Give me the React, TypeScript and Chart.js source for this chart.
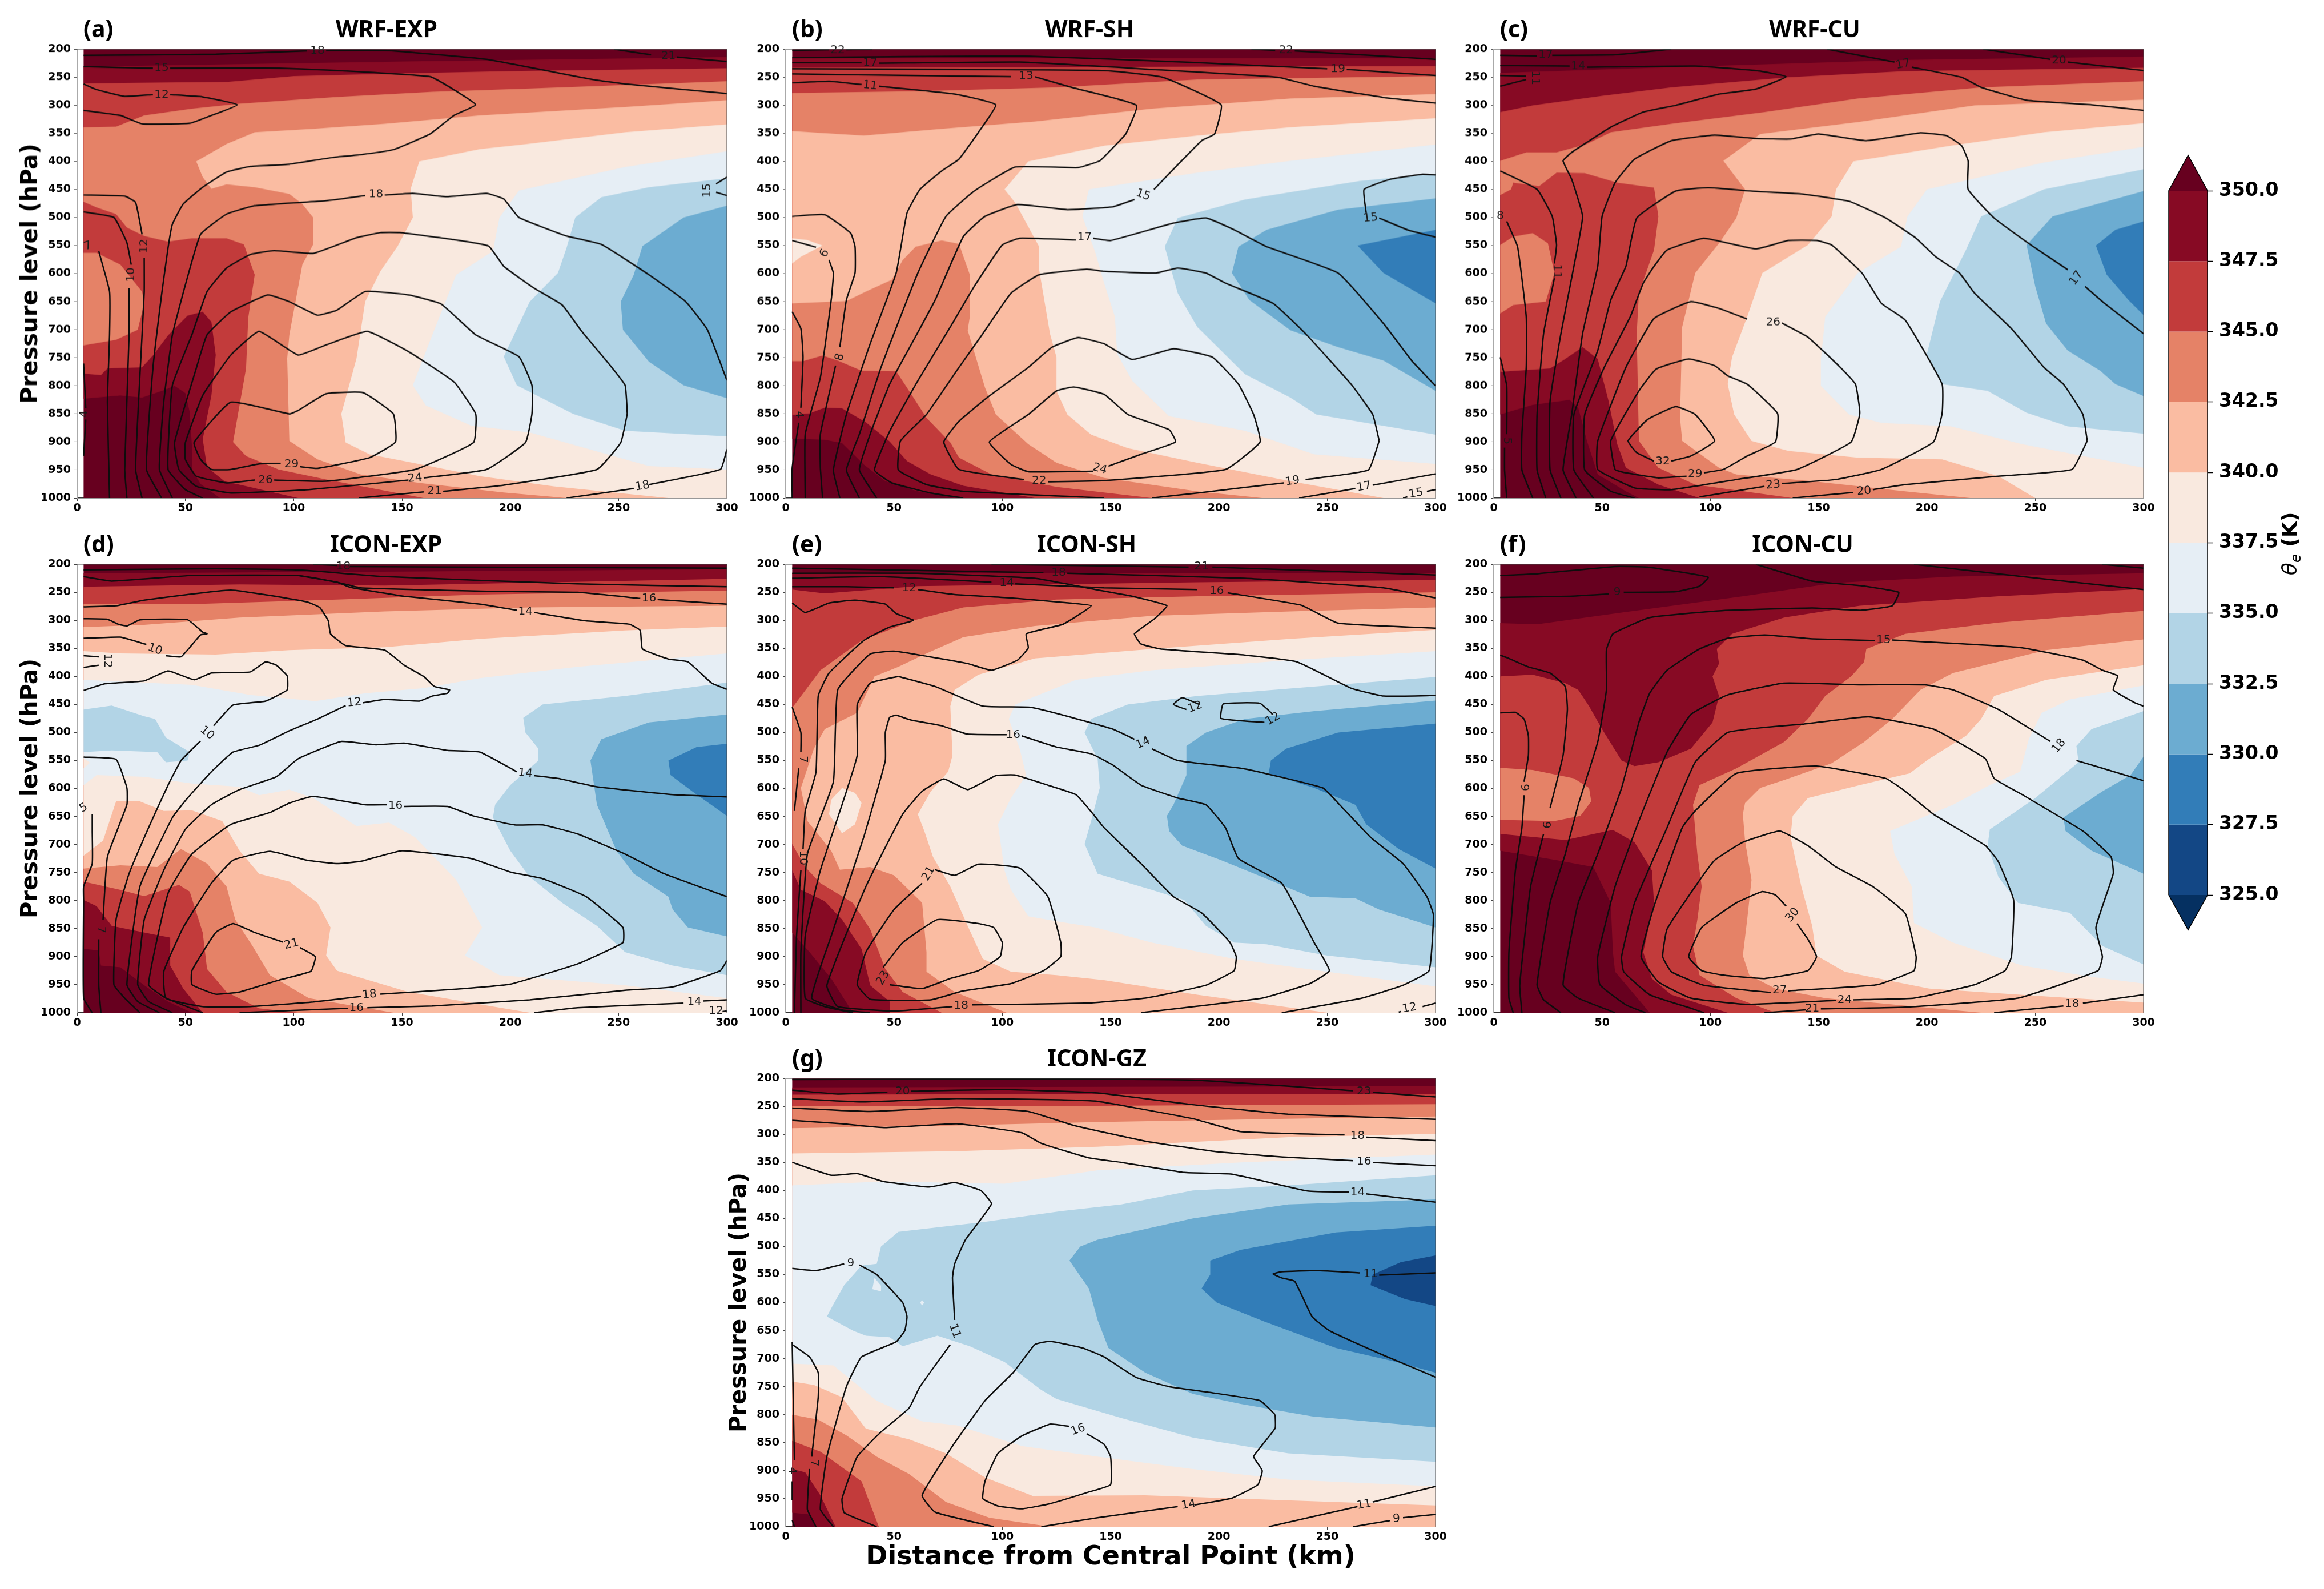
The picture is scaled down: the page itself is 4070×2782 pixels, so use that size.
import React, { useEffect, useRef } from "react";
import { Chart, registerables } from "chart.js";
Chart.register(...registerables);

const levelColors: Record<string, string> = {
  "999": "#67001f", "350": "#870a24", "347.5": "#c23b3b", "345": "#e58267", "342.5": "#fabca2",
  "340": "#f9e9df", "337.5": "#e6eef5", "335": "#b2d4e6", "332.5": "#6cacd1", "330": "#327db8", "327.5": "#134785", "0": "#053061",
};
const colorbarLevels = [325, 327.5, 330, 332.5, 335, 337.5, 340, 342.5, 345, 347.5, 350];
const pressureTicksMin = 200, pressureTicksMax = 1000, distanceMax = 300;
const field = [3, 200, 300, 200, 300, 1000, 3, 1000];

type Fill = [string, number[]];
type Lab = [string, number, number, number];

// ---------- (a) WRF-EXP
const aFills: Fill[] = [
  ["350", [3,231,150,222,300,214,300,1000,66,1000,57,975,53,949,53,907,52,847,50,813,45,800,40,808,30,821,20,817,3,823]],
  ["347.5", [3,261,70,258,100,248,150,243,200,239,300,234,300,1000,102,1000,68,970,60,945,58,895,62,817,64,745,62,686,58,668,51,675,42,710,35,746,30,767,14,769,11,781,3,778]],
  ["345", [3,339,18,338,31,318,53,306,75,297,120,285,164,276,209,270,300,257,300,1000,160,1000,115,967,93,949,78,925,72,900,78,769,79,679,82,602,77,548,69,537,53,537,42,543,31,533,23,518,18,494,9,482,3,472]],
  ["345", [3,563,9,563,20,584,30,632,31,653,28,700,18,718,3,728]],
  ["342.5", [55,400,69,369,82,348,109,342,142,333,186,318,253,303,300,291,300,1000,226,1000,197,990,158,973,131,958,111,931,98,898,97,751,98,709,104,584,109,548,109,500,104,476,98,458,82,446,69,441,62,449,58,428]],
  ["340", [158,400,186,378,208,369,253,348,300,334,300,1000,273,1000,220,979,186,961,155,937,135,922,124,901,122,850,129,751,133,650,140,596,148,551,155,500,154,449]],
  ["337.5", [204,452,253,410,300,382,300,949,264,943,231,907,209,883,182,871,161,835,155,799,164,709,175,602,192,560,195,500]],
  ["335", [300,430,264,446,242,464,230,500,226,554,222,599,209,650,197,748,203,799,229,850,253,880,300,890]],
  ["332.5", [300,479,280,500,261,551,257,602,251,650,252,700,264,757,280,799,300,822]],
];
const aLines = [
  [3,211,64,209,106,203],[115,202,142,202,189,218,238,254,253,262,300,279],
  [248,200,265,210],[277,214,300,222],
  [3,231,35,234],[43,234,87,233,120,238,163,249,173,270,184,299,174,318,163,351,146,379,131,388,118,393,98,405,80,409,69,419,58,446,49,476,44,512,42,554,39,638,35,769,32,949,39,1000],
  [3,262,9,272,22,284,35,281],[43,281,58,285,74,299,60,321,52,332,30,333,20,318,3,309],
  [3,490,17,500,23,545,25,584],[24,626,24,709,22,949,23,1000],
  [3,460,22,462,27,473,30,530],[31,572,31,632,30,709,27,949,30,1000],
  [10,560,15,632,15,709,14,829,15,1000],
  [3,760,4,840],[4,860,3,925],
  [300,790,291,700,281,650,264,602,242,548,226,533,204,500,197,467,189,457,171,463,155,457,142,460],[133,461,115,470,82,479,69,494,57,530,50,620,44,709,40,829,38,949,44,1000],
  [300,913,297,949,264,976],[257,983,226,1000],
  [254,850,253,799,246,763,233,703,224,656,211,626,197,587,190,551,173,539,149,527,140,527,129,536,109,564,91,559,80,566,69,590,60,632,53,709,44,799,42,949,50,985,58,1000],
  [254,850,251,901,240,949,197,977,169,988],[160,989,130,1000],
  [160,964,189,949,207,901,210,850,210,799,204,748,184,709,168,654,153,638,133,632,120,665,111,674,98,650,88,638,71,668,60,709,55,769,45,901,47,949,55,979,71,991,107,985,153,968],
  [91,968,115,970,156,949,183,901,184,850,174,793,153,739,134,703,115,727,102,745,84,703,71,745,58,817,50,901,50,931,55,961,69,973,82,968],
  [103,944,111,947,135,928,147,900,146,850,132,812,115,814,102,844,98,850,71,829,54,901,57,931,62,949,71,949,84,939,94,938],
  [300,428,295,440],[295,455,300,461],
];
const aLabels: Lab[] = [["18",111,203,0],["21",273,212,0],["15",39,233,0],["12",39,281,0],["10",25,602,-90],["12",31,551,-90],["7",5,551,-20],["4",3.5,850,-90],["18",138,459,0],["18",261,979,-10],["21",165,988,0],["24",156,965,-5],["26",87,968,0],["29",99,940,0],["15",291,452,-90]];

// ---------- (b) WRF-SH
const bFills: Fill[] = [
  ["350", [3,216,300,216,300,1000,82,1000,61,988,46,970,36,940,26,902,18,896,3,894]],
  ["347.5", [3,233,100,232,300,230,300,1000,115,1000,82,978,67,958,56,934,48,899,37,865,26,840,18,839,11,849,3,852]],
  ["345", [3,278,61,275,125,268,190,254,300,248,300,1000,169,1000,125,980,95,958,80,928,76,901,65,857,58,815,51,774,35,773,24,755,17,746,8,756,3,756]],
  ["342.5", [3,346,36,354,72,342,115,329,169,306,233,288,300,280,300,1000,220,1000,190,988,147,964,125,937,112,904,97,851,92,803,84,701,85,677,85,602,80,547,72,541,60,552,54,576,49,611,37,632,28,649,3,653]],
  ["340", [112,400,147,372,190,354,233,339,300,323,300,1000,276,1000,233,970,190,937,158,911,141,887,130,851,125,809,125,749,122,707,117,593,117,552,106,474,101,450]],
  ["340", [3,537,10,540,17,550,7,570,3,582]],
  ["337.5", [300,370,233,399,190,420,140,450,137,498,143,563,147,617,152,677,153,743,160,791,177,854,212,880,244,922,300,939]],
  ["335", [300,422,265,435,212,468,181,501,175,552,181,635,190,695,212,779,233,821,245,851,300,887]],
  ["332.5", [300,466,255,486,222,522,209,552,206,599,214,647,233,701,255,731,276,755,300,809]],
  ["330", [300,522,264,550,276,599,300,653]],
];
const bLines = [
  [3,202,20,201],[28,201,40,200],[215,200,226,202],[235,203,300,218],
  [3,215,108,212,190,224,250,235],[259,236,300,247],
  [3,224,35,224],[43,225,108,223,169,236,227,250,244,266,276,286,300,296],
  [3,235,82,236,147,238,174,250,201,299,198,351,192,363,179,414,170,450],[161,468,151,481,130,486,107,477,92,498,82,534,69,647,59,719,48,797,39,886,34,950,42,1000],
  [3,244,104,249],[115,249,132,268,162,300,157,351,152,372,145,399,135,411,106,410,87,453,74,498,61,599,44,767,34,886,28,950,34,1000],
  [3,260,20,257,35,263],[43,266,78,280,97,299,89,348,80,396,72,417,62,450,56,492,51,599,39,725,28,851,22,950,25,1000],
  [3,498,18,495,30,528,32,552,32,599,28,647,25,731],[23,764,16,886,16,946,17,1000],
  [3,541,14,553],[20,576,22,599,21,647,16,785,9,886,9,1000],
  [3,668,7,698,8,749,7,839],[6,866,3,946,3,1000],
  [300,800,289,755,276,689,255,599,222,552,207,522,194,501,179,510,150,541,142,537],[134,540,108,537,100,549,87,623,76,695,61,791,48,881,41,950,49,973,67,991,82,1000],
  [300,424,294,423,279,432,267,450,268,492],[274,501,287,522,300,535],
  [274,898,271,851,261,797,240,707,225,653,203,617,194,599,181,590,171,599,147,596,139,592,117,602,104,635,91,707,80,767,65,851,53,898,52,950,65,976,82,988,147,1000],
  [274,898,269,950,240,967],[230,973,190,991,169,1000],
  [110,967,80,949,73,900,80,863,93,821,112,767,123,731,135,714,147,725,160,753,179,734,197,749,209,797,216,851,219,900,203,949,147,969,121,971],
  [142,952,112,953,104,940,94,900,112,851,125,809,133,802,147,815,158,851,177,878,180,900,164,922,149,943],
  [237,1000,263,983],[271,977,300,957],[285,1000,287,998],[296,988,300,985],
];
const bLabels: Lab[] = [["22",24,202,0],["22",231,202,0],["19",255,235,0],["17",39,224,0],["15",165,460,20],["13",111,248,0],["11",39,265,5],["8",25,749,-75],["6",18,564,-60],["4",6,851,90],["17",138,535,0],["15",270,501,-5],["19",234,970,-10],["22",117,969,0],["24",145,948,15],["17",267,980,-10],["15",291,992,-10]];

// ---------- (c) WRF-CU
const cFills: Fill[] = [
  ["350", [3,242,82,232,190,219,300,213,300,1000,67,1000,61,988,48,958,43,898,39,839,35,825,18,834,3,851]],
  ["347.5", [3,312,18,300,50,283,82,268,136,250,190,239,300,233,300,1000,95,1000,76,976,61,946,57,904,53,827,48,752,41,731,33,752,26,769,3,775]],
  ["345", [3,399,15,384,29,384,43,369,54,348,82,333,125,312,168,288,225,268,300,257,300,1000,138,1000,93,976,76,946,67,898,66,707,67,635,74,558,76,498,74,447,57,438,42,421,29,420,21,444,9,438,8,450,3,460]],
  ["345", [3,549,9,534,18,528,25,546,28,599,24,650,9,656,3,671]],
  ["342.5", [106,399,123,351,168,330,222,300,300,290,300,1000,220,1000,190,988,147,970,112,958,104,946,87,898,86,857,87,695,93,599,104,546,112,501,116,450]],
  ["340", [166,400,211,372,254,348,300,332,300,1000,250,1000,233,961,207,931,168,928,136,916,119,898,111,851,108,797,110,749,117,677,124,599,145,549,156,498,158,450]],
  ["337.5", [300,374,254,402,200,450,191,498,188,552,168,599,153,677,151,755,151,800,164,851,179,866,211,872,244,904,300,946]],
  ["335", [300,414,254,450,225,498,218,558,206,650,200,743,207,797,228,809,246,848,265,872,300,885]],
  ["332.5", [300,453,258,498,246,549,250,623,255,689,265,737,280,773,287,797,300,818]],
  ["330", [300,507,287,522,278,550,283,602,293,647,300,674]],
];
const cLines = [
  [3,211,20,212],[27,211,56,210,82,200],
  [154,200,185,223],[193,232,216,250,225,268,246,291,276,299,300,309],
  [226,200,257,218],[265,223,300,238],
  [3,229,35,230],[43,232,93,230,121,238,135,249,121,271,104,280,84,300,69,312,54,339,43,366,36,384,32,399,36,432,41,498,37,587,31,707,26,827,26,950,31,1000],
  [3,247,15,248],[15,254,3,266],
  [3,417,20,450,27,498,29,549,28,582],[28,608,23,707,20,851,20,950,24,1000],
  [6,507,11,552,15,677,15,767,13,886,13,950,18,1000],
  [3,749,6,800,6,886],[5,910,5,950,6,1000],
  [300,707,282,653,273,623],[265,593,248,549,231,501,219,450,219,399,216,372,209,354,197,349,172,363,150,351,137,360,121,359,102,353,82,363,65,396,56,438,50,498,48,587,41,707,36,851,32,950,38,1000],
  [274,898,272,851,263,797,254,767,239,698,222,635,215,599,204,570,195,537,181,501,164,471,142,458,119,453,99,447,84,453,66,501,61,587,54,647,48,737,37,851,37,950,46,1000],
  [274,898,267,949,233,961,190,976,175,985],[166,990,138,1000],
  [133,974,158,967,179,949,203,900,207,849,207,797,190,683,179,653,170,599,156,549,149,541,136,541,121,556,97,537,80,558,74,587,69,617,63,677,51,767,42,851,42,950,54,988,65,1000],
  [125,979,95,998],
  [117,681,104,662,91,650,74,680,61,767,48,898,48,949,65,982,82,985,112,967,140,949,165,900,169,849,167,797,160,767,145,713,133,688],
  [97,955,106,949,117,925,130,900,131,849,117,797,108,782,102,764,90,752,75,770,67,809,54,898,56,949,61,955,76,964,89,961],
  [82,934,91,925,102,898,93,851,84,837,71,860,62,898,66,919,74,934],
];
const cLabels: Lab[] = [["17",24,210,0],["17",189,227,-12],["20",261,220,0],["14",39,230,0],["11",19,251,90],["11",29,596,90],["8",3,497,0],["5",6,898,90],["17",269,608,-55],["20",171,988,-5],["23",129,977,-5],["26",129,687,0],["29",93,957,0],["32",78,935,0]];

// ---------- (d) ICON-EXP
const dFills: Fill[] = [
  ["350", [3,216,150,213,300,209,300,1000,53,1000,42,980,31,951,20,919,11,916,10,889,3,886]],
  ["347.5", [3,240,75,236,142,238,300,226,300,1000,58,1000,49,957,43,916,43,866,35,860,16,845,9,810,3,799]],
  ["345", [3,271,53,271,120,263,186,254,300,247,300,1000,102,1000,84,992,69,963,60,922,58,857,52,784,47,772,31,792,20,781,3,766]],
  ["342.5", [3,312,31,308,75,295,142,284,209,277,300,274,300,1000,146,1000,107,974,89,933,81,881,73,834,69,775,60,734,48,708,37,740,20,737,3,743]],
  ["340", [3,355,20,359,64,361,98,353,142,348,186,333,253,318,300,311,300,1000,209,1000,186,985,153,963,120,925,115,898,117,848,111,804,98,766,84,752,75,711,67,658,53,639,40,640,29,623,18,623,12,693,3,720]],
  ["337.5", [3,406,53,415,80,433,110,444,133,430,160,421,186,403,231,383,300,359,300,974,253,951,195,933,179,898,187,848,175,763,156,687,144,661,129,667,109,617,98,602,84,612,75,597,53,591,31,579,9,576,3,594,3,564,6,554,3,546]],
  ["335", [3,459,16,452,31,471,36,476,41,509,52,535,51,550,41,553,37,535,16,532,3,535]],
  ["335", [300,411,253,435,215,450,206,474,207,500,213,529,213,550,200,594,193,629,192,652,200,711,209,758,224,804,240,845,253,892,275,916,300,933]],
  ["332.5", [300,468,264,482,242,512,237,550,240,629,249,711,257,752,273,793,275,816,282,848,300,864]],
  ["330", [300,520,286,526,273,550,274,576,284,605,300,649]],
];
const dLines = [
  [109,200,120,202],[126,204,300,207],
  [3,210,64,208,102,210,142,222,231,235,300,240],
  [3,222,16,230,53,220,102,220,120,232,131,242,186,248,231,250,260,261],[268,263,300,271],
  [102,220,120,232,126,241,151,257,186,271,203,282],[211,286,235,301,255,307,260,318,261,351,273,369,282,374,293,412,300,423],
  [3,276,18,274,31,264,71,246,106,267,112,277,116,301,117,324,124,345,142,353,151,380,160,400,165,418,172,424,171,430,164,435,158,444,142,441,132,447],[124,452,111,476,98,497,84,523,72,535,62,570,51,617,44,652,29,775,23,950,28,980,38,1000],
  [3,297,14,298,19,307,23,310,29,299,51,299,58,321,60,324,57,326,48,365,41,363],[32,343,20,330,3,332],
  [3,363,10,365],[10,380,3,384],
  [3,425,13,413,31,408,42,390,54,406,62,394,80,392,87,374,92,380,97,399,97,424,87,444,72,451,63,488],[57,515,48,550,42,594,33,670,24,752,18,834,17,950,22,974,29,1000],
  [3,544,18,548,23,599,23,629,14,722,12,834],[10,869,10,951,11,1000],
  [7,646,7,676,7,734,3,775,3,801,3,974,7,1000],
  [300,615,275,611,240,597,222,582,211,577],[203,570,186,535,171,532,151,519,138,522,122,516,102,547,92,579,75,602,62,629,50,673,40,746,31,834,28,950,33,980,44,1000],
  [300,793,271,752,253,717,231,681,215,665,202,665,183,649,171,632,151,632],[143,629,133,629,109,614,98,626,89,643,71,664,53,717,42,787,33,950,41,974,58,1000],
  [131,971,109,981,80,989,58,989,41,974,40,927,49,848,62,769,72,728,89,712,106,728,120,734,131,730,150,711,182,725,200,749,215,761,235,793,252,848,252,875,231,913,200,949,175,958,140,967],
  [95,874,82,857,72,841,64,857,53,925,53,950,64,967,75,963,93,942,108,926,110,900,103,884],
  [300,907,297,925,275,954,253,960,209,977,164,988,134,991],[125,992,75,1000],
  [211,1000,231,991,280,983],[289,979,300,977],[298,998,300,997],
];
const dLabels: Lab[] = [["18",123,204,0],["16",264,261,0],["14",207,284,0],["12",128,447,-5],["10",36,352,20],["12",14,372,90],["10",60,501,40],["7",11,852,90],["5",3,635,-30],["14",207,573,5],["16",147,631,0],["18",135,968,-5],["21",99,878,-15],["16",129,992,0],["14",285,980,0],["12",295,997,0]];

// ---------- (e) ICON-SH
const eFills: Fill[] = [
  ["350", [3,216,300,216,300,1000,31,1000,21,939,11,892,3,857]],
  ["347.5", [3,245,18,252,61,239,190,232,300,228,300,1000,48,1000,48,980,39,951,35,886,26,834,18,801,7,781,3,746]],
  ["345", [3,456,16,389,35,336,59,300,82,277,125,263,190,257,300,250,300,1000,72,1000,54,963,46,922,39,851,31,804,16,769,9,740,3,699]],
  ["342.5", [7,599,13,529,18,494,33,465,41,400,52,383,65,359,82,330,115,310,169,292,233,284,300,277,300,1000,102,1000,78,963,65,927,65,892,63,804,50,755,39,740,25,745,21,711,16,687,10,658]],
  ["340", [300,317,233,333,169,351,115,368,89,397,78,424,76,453,77,541,75,570,67,605,61,646,64,676,68,722,76,775,84,845,91,904,104,927,125,933,147,942,190,968,250,1000,300,1000]],
  ["340", [26,599,32,608,35,626,32,664,26,680,20,646,21,620]],
  ["337.5", [300,355,233,371,169,389,134,406,106,450,103,476,108,529,111,576,104,617,98,664,101,746,104,781,112,828,125,837,143,848,169,875,207,904,250,927,300,953]],
  ["335", [300,401,244,418,190,435,158,450,141,476,138,500,144,547,145,599,141,658,138,699,144,752,169,781,184,799,194,845,207,875,222,878,250,898,300,919]],
  ["332.5", [300,443,244,462,212,476,194,500,185,524,185,576,179,629,176,649,177,676,183,702,201,728,222,761,242,793,263,796,274,816,300,848]],
  ["330", [300,484,255,500,231,529,224,550,223,573,244,599,263,629,268,664,283,708,300,743]],
];
const eLines = [
  [95,200,186,205],[197,205,300,219],
  [3,207,119,215],[130,216,212,225,276,242,300,260],
  [3,225,44,222,95,232],[106,235,147,242,190,245],[204,251,238,273,255,305,300,314],
  [3,216,61,216,115,225,143,245,160,257,176,274,170,298,161,324,164,342,173,351,212,362,236,374,261,421,276,435,300,434],
  [3,240,28,240,50,242],[61,245,78,254,104,260,125,267,141,274,128,307,111,324,112,349,107,371,95,389,84,377,65,364,50,355,39,360,24,424,22,588,10,717,7,892,7,1000],
  [3,269,9,286,20,269,32,264,46,271,51,288,59,300,48,312,36,336,20,394,15,435,14,570,9,640,8,708],[7,746,5,863,4,1000],
  [3,455,7,500,7,535],[6,564,4,640],
  [52,400,69,418,91,453,113,455,130,471,151,494,161,512],[169,529,181,550,212,565,248,599,255,626,270,687,285,734,296,793,299,825,297,925,285,951,266,974,229,1000],
  [52,400,39,412,33,450,33,541,26,629,16,746,9,863,9,974,18,989,31,1000],
  [51,469,58,478,72,488,84,503,102,504],[109,506,125,526,141,538,151,558,164,594,181,617,194,629,203,670,209,725,229,769,244,875,251,925,242,948,220,974,164,1000],
  [51,469,48,473,46,500,46,550,36,687,21,863,12,974,26,995,39,1000],
  [77,989,50,997,24,989,19,951,37,775,54,646,63,605,73,583,84,602,97,577,106,576,121,594,134,611,142,646,147,670,164,734,179,793,192,822,205,874,208,900,207,925,194,951,166,974,138,983,86,986],
  [69,745,78,755,89,735,108,742,121,793,127,875,127,900,119,925,104,948,82,961,67,977,39,976,33,950,37,892,50,816,63,769],
  [45,919,54,875,70,834,89,841,96,848,100,875,99,900,89,925,76,939,63,957,48,950],
  [191,450,183,438,179,450,185,459],
  [225,468,219,448,202,449,201,475,221,482],
  [283,999,284,998],[294,989,300,983],
];
const eLabels: Lab[] = [["21",192,204,0],["18",126,215,0],["14",102,233,0],["16",199,248,0],["12",57,243,0],["10",8,724,90],["7",8,548,90],["14",165,519,-25],["16",105,504,0],["18",81,988,0],["21",66,752,-60],["23",45,938,-60],["12",189,455,-20],["12",225,476,-30],["12",288,992,-10]];

// ---------- (f) ICON-CU
const fFills: Fill[] = [
  ["350", [3,305,20,307,59,286,115,257,158,233,212,222,300,216,300,1000,72,1000,56,927,55,892,54,804,46,740,29,728,3,711]],
  ["347.5", [3,400,18,397,33,412,39,424,44,453,50,494,59,550,65,560,76,553,91,529,101,482,104,435,101,400,104,377,103,351,110,324,134,295,169,274,233,257,300,244,300,1000,108,1000,82,968,73,939,69,892,74,804,73,746,65,696,55,674,33,692,3,681]],
  ["345", [92,629,95,594,112,564,134,517,145,476,153,435,165,400,171,374,172,351,190,324,233,304,300,283,300,1000,130,1000,112,974,95,933,92,881,94,834,96,775,94,717]],
  ["345", [3,563,18,567,37,582,44,599,45,623,40,649,28,658,3,656]],
  ["342.5", [300,334,255,353,212,394,197,424,184,476,171,517,156,555,134,585,123,599,116,626,115,646,116,693,119,763,117,834,115,898,118,933,130,957,153,974,225,1000,300,1000]],
  ["340", [300,380,255,406,231,435,225,476,218,506,201,547,192,573,169,594,145,617,138,649,137,687,142,775,147,845,149,898,162,927,201,957,255,971,300,982]],
  ["337.5", [300,416,266,441,253,465,247,512,243,570,229,594,212,629,183,676,185,717,193,775,194,840,212,875,244,916,276,936,300,948]],
  ["335", [300,462,276,494,269,524,270,553,250,617,229,673,228,702,233,758,242,804,266,822,281,881,300,914]],
  ["332.5", [300,543,294,576,281,605,263,652,264,676,276,711,300,752]],
];
const fLines = [
  [60,250,84,249,95,239,99,223,71,205,56,204,20,217,3,220],[53,253,35,257,3,259],
  [121,200,147,230,169,238,187,250,184,274,169,282,147,278,104,283,72,295,55,324,52,353,52,424,48,517,39,629,33,717,26,804,20,950,23,977,31,1000],
  [194,200,244,222,300,245],[281,200,300,207],
  [3,362,7,368,16,383,26,394,33,418,34,459,32,541,26,635],[23,681,17,775,12,951,13,1000],
  [3,465,10,464,14,476,16,506,16,541,14,588],[14,612,13,670,10,746,7,892,7,974,9,1000],
  [300,453,296,447,286,424,288,399,281,389,272,371,244,349,212,341,184,335],[176,336,147,333,125,326,108,332,95,351,80,389,72,430,67,482,59,599,48,717,39,804,32,950,39,974,56,1000],
  [300,586,276,558,269,550],[257,516,233,459,212,424,199,415,169,415,134,412,108,433,91,468,80,535,67,658,56,775,48,900,49,950,61,986,70,1000],
  [125,1000,144,995],[151,993,190,990,242,974,279,925,281,900,278,848,286,752,285,722,272,676,244,611,231,582,227,547,203,494,173,472,143,485,125,491,108,500,93,553,80,670,65,804,59,900,60,927,72,968,91,992,97,1000],
  [166,977,194,974,222,950,236,925,239,900,240,799,233,731,227,702,203,646,190,605,181,582,149,560,112,573,93,640,87,670,74,810,68,900,76,945,91,974,117,985,158,978],
  [136,961,177,950,194,925,195,900,190,823,175,775,158,740,145,702,132,676,115,696,102,728,93,775,80,851,78,900,82,927,97,951,128,964],
  [140,841,145,869,149,900,145,925,125,939,106,933,96,925,90,900,96,848,112,804,124,784,130,790,135,810],
  [231,1000,263,988],[272,983,300,968],
];
const fLabels: Lab[] = [["9",57,250,0],["9",24,665,90],["9",14,598,90],["15",180,335,0],["18",261,524,-50],["21",147,993,0],["24",162,977,0],["27",132,960,0],["30",138,826,-50],["18",267,985,0]];

// ---------- (g) ICON-GZ
const gFills: Fill[] = [
  ["350", [3,216,300,214,300,1000,14,1000,11,978,3,975]],
  ["347.5", [3,229,144,228,300,228,300,1000,23,1000,16,944,9,903,3,897]],
  ["345", [3,250,144,249,300,246,300,1000,43,1000,35,919,16,866,3,847]],
  ["342.5", [3,289,79,284,144,278,232,272,300,268,300,1000,122,1000,94,984,74,956,57,906,42,875,28,837,15,809,3,800]],
  ["340", [3,334,79,330,144,322,232,305,300,299,300,962,254,956,166,944,114,945,92,912,74,869,57,844,37,825,26,769,13,747,3,741]],
  ["337.5", [3,391,46,384,101,388,144,364,210,350,300,336,300,928,232,916,188,897,144,875,109,856,79,819,63,812,42,775,22,712,3,709]],
  ["335", [300,373,232,391,188,400,155,425,127,437,92,456,52,474,44,500,42,531,35,534,27,569,22,603,19,625,31,650,37,659,48,662,54,678,70,659,85,678,101,706,118,756,125,772,155,806,188,841,232,869,300,884]],
  ["332.5", [300,416,232,425,188,450,144,488,136,500,131,525,140,575,144,631,149,681,166,725,188,763,210,781,243,803,300,823]],
  ["330", [300,463,254,475,210,506,196,525,196,550,192,575,199,600,221,634,254,681,282,706,300,725]],
  ["327.5", [300,516,284,528,271,550,270,569,286,594,300,606]],
  ["337.5", [41,556,44,570,44,580,40,576]],
  ["337.5", [63,596,64,600,63,605,62,600]],
];
const gLines = [
  [3,202,101,201,188,203,262,222],[271,225,300,233],
  [3,221,24,228,47,225],[58,223,101,220,144,226,188,247,232,264,300,273],
  [3,236,35,242,79,236,122,238,144,241,188,272,210,295,258,301],[268,305,300,311],
  [3,253,39,259,79,252,112,259,133,284,166,312,199,331,232,341,262,347],[271,350,300,356],
  [3,275,26,281,46,288,79,281,109,297,118,316,140,342,155,350,184,368,206,371,241,401,260,403],[268,406,300,421],
  [3,350,21,373,33,370,45,384,66,394,78,386,90,400,95,424,83,488,78,531,77,556,78,631],[76,675,62,750,57,788,44,831,33,875,26,950,27,975,42,1000],
  [3,539,14,543,27,531],[34,533,42,550,54,600,56,625,55,650,51,670,35,697,28,750,19,875,16,969,22,1000],
  [3,675,11,697,15,725,15,769,12,875],[11,897,10,969,14,1000],
  [3,670,4,881],[3,919,3,953],[3,988,4,1000],
  [226,800,219,775,197,761,177,750,162,734,147,697,137,681,122,669,115,675,105,725,92,775,77,856,63,944,69,974,96,1000],
  [226,800,226,824,219,859,216,875,220,900,218,925,206,949,189,961],[181,964,144,984,118,1000],
  [139,834,147,853,150,875,150,925,140,938,122,959,109,968,98,963,91,950,92,919,98,869,109,838,122,817,131,821],
  [300,547,274,551],[265,547,245,543,229,545,225,549,229,556,235,562,243,625,251,650,276,694,300,733],
  [223,1000,264,964],[271,956,300,928],[262,1000,279,989],[285,984,300,978],
];
const gLabels: Lab[] = [["23",267,223,0],["20",54,223,0],["18",264,303,0],["16",267,349,0],["14",264,404,0],["11",78,651,70],["9",30,530,0],["7",13,886,90],["4",3,900,90],["14",186,961,-10],["16",135,827,-20],["11",270,549,0],["11",267,961,-10],["9",282,986,-5]];

const rowTops = [86, 987.5, 1887.5];
const colLefts = [135, 1376, 2616];
const plotW = 1138, plotH = 785.5;

type PanelDef = { tag: string; title: string; left: number; top: number; titleAt: number; fills: Fill[]; lines: number[][]; labels: Lab[]; yTitle?: boolean; xTitle?: boolean };
const panels: PanelDef[] = [
  { tag: "(a)", title: "WRF-EXP", left: colLefts[0], top: rowTops[0], titleAt: 542, fills: aFills, lines: aLines, labels: aLabels, yTitle: true },
  { tag: "(b)", title: "WRF-SH", left: colLefts[1], top: rowTops[0], titleAt: 532, fills: bFills, lines: bLines, labels: bLabels },
  { tag: "(c)", title: "WRF-CU", left: colLefts[2], top: rowTops[0], titleAt: 562, fills: cFills, lines: cLines, labels: cLabels },
  { tag: "(d)", title: "ICON-EXP", left: colLefts[0], top: rowTops[1], titleAt: 541, fills: dFills, lines: dLines, labels: dLabels, yTitle: true },
  { tag: "(e)", title: "ICON-SH", left: colLefts[1], top: rowTops[1], titleAt: 527, fills: eFills, lines: eLines, labels: eLabels },
  { tag: "(f)", title: "ICON-CU", left: colLefts[2], top: rowTops[1], titleAt: 541, fills: fFills, lines: fLines, labels: fLabels },
  { tag: "(g)", title: "ICON-GZ", left: colLefts[1], top: rowTops[2], titleAt: 545, fills: gFills, lines: gLines, labels: gLabels, yTitle: true, xTitle: true },
];

const pts = (a: number[]) => { const o: { x: number; y: number }[] = []; for (let i = 0; i + 1 < a.length; i += 2) o.push({ x: a[i], y: a[i + 1] }); return o; };

const polyPlugin = {
  id: "polyFill",
  beforeDatasetDraw(chart: any, args: any) {
    const ds = chart.data.datasets[args.index];
    if (!ds.polyColor) return;
    const ctx = chart.ctx, el = args.meta.data;
    ctx.save();
    ctx.beginPath();
    el.forEach((p: any, i: number) => (i ? ctx.lineTo(p.x, p.y) : ctx.moveTo(p.x, p.y)));
    ctx.closePath();
    ctx.fillStyle = ds.polyColor;
    ctx.fill();
    ctx.restore();
  },
};

const sansBold = '"DejaVu Sans"';
const LEFT = 130, TOP = 80, RIGHT = 30;

function Panel({ p }: { p: PanelDef }) {
  const ref = useRef<HTMLCanvasElement>(null);
  const bottom = p.xTitle ? 100 : 40;
  const width = LEFT + plotW + RIGHT, height = TOP + plotH + bottom;
  useEffect(() => {
    const decor = {
      id: "decor",
      afterDatasetsDraw(chart: any) {
        const { ctx, chartArea: a, scales } = chart;
        ctx.save();
        ctx.fillStyle = "#1a1a1a";
        ctx.textAlign = "center";
        ctx.textBaseline = "middle";
        ctx.font = '20px "DejaVu Sans"';
        for (const [t, x, y, r] of p.labels) {
          ctx.save();
          ctx.translate(scales.x.getPixelForValue(x), scales.y.getPixelForValue(y));
          ctx.rotate((r * Math.PI) / 180);
          ctx.fillText(t, 0, 0);
          ctx.restore();
        }
        ctx.strokeStyle = "#444";
        ctx.lineWidth = 1;
        ctx.beginPath();
        ctx.moveTo(a.left, a.top);
        ctx.lineTo(a.right, a.top);
        ctx.lineTo(a.right, a.bottom);
        ctx.stroke();
        ctx.fillStyle = "#000";
        ctx.font = 'bold 41px "Noto Sans"';
        ctx.fillText(p.title, a.left + p.titleAt, a.top - 33);
        ctx.textAlign = "left";
        ctx.fillText(p.tag, a.left + 11, a.top - 33);
        ctx.restore();
      },
    };
    const datasets: any[] = [];
    [["999", field] as Fill, ...p.fills].forEach(([lv, arr]) =>
      datasets.push({ data: pts(arr), showLine: false, pointRadius: 0, polyColor: levelColors[lv] })
    );
    p.lines.forEach((l) =>
      datasets.push({ data: pts(l), showLine: true, pointRadius: 0, borderColor: "#0d0d0d", borderWidth: 2.5, tension: 0.12, fill: false })
    );
    datasets.forEach((d, i) => (d.order = datasets.length - i));
    const chart = new Chart(ref.current!, {
      type: "scatter",
      data: { datasets },
      plugins: [polyPlugin, decor],
      options: {
        animation: false,
        responsive: false,
        devicePixelRatio: 1,
        events: [],
        layout: { padding: { top: TOP, right: RIGHT, left: 0, bottom: 0 } },
        plugins: { legend: { display: false }, tooltip: { enabled: false }, title: { display: false } },
        scales: {
          x: {
            type: "linear", min: 0, max: distanceMax,
            afterFit: (s: any) => { s.height = bottom; },
            border: { color: "#333", width: 1.5 },
            grid: { drawOnChartArea: false, tickLength: 5, tickColor: "#444", tickWidth: 1 },
            ticks: { stepSize: 50, color: "#000", padding: 2, maxRotation: 0, callback: (v: any) => String(v), font: { family: sansBold, weight: "bold", size: 19 } },
            title: { display: !!p.xTitle, text: "Distance from Central Point (km)", color: "#000", padding: { top: 0, bottom: 18 }, font: { family: sansBold, weight: "bold", size: 46 } },
          },
          y: {
            type: "linear", reverse: true, min: pressureTicksMin, max: pressureTicksMax,
            afterFit: (s: any) => { s.width = LEFT; },
            border: { color: "#aaa", width: 2 },
            grid: { drawOnChartArea: false, tickLength: 5, tickColor: "#444", tickWidth: 1 },
            ticks: { stepSize: 50, color: "#000", padding: 6, autoSkip: false, callback: (v: any) => String(v), font: { family: sansBold, weight: "bold", size: 19 } },
            title: { display: !!p.yTitle, text: "Pressure level (hPa)", color: "#000", padding: { top: 26, bottom: 0 }, font: { family: sansBold, weight: "bold", size: 40 } },
          },
        },
      } as any,
    });
    return () => chart.destroy();
  }, []);
  return (
    <canvas ref={ref} width={width} height={height}
      style={{ position: "absolute", left: p.left - LEFT, top: p.top - TOP, width, height }} />
  );
}

function Colorbar() {
  const ref = useRef<HTMLCanvasElement>(null);
  const PADL = 8, PADT = 80, W = 68, H = 1233, AX = 204;
  useEffect(() => {
    const keys = ["0", "327.5", "330", "332.5", "335", "337.5", "340", "342.5", "345", "347.5", "350", "999"];
    const datasets: any[] = [];
    for (let i = 0; i + 1 < colorbarLevels.length; i++) {
      const lo = colorbarLevels[i], hi = colorbarLevels[i + 1];
      datasets.push({ data: pts([0, lo, 1, lo, 1, hi, 0, hi]), showLine: false, pointRadius: 0, polyColor: levelColors[String(keys[i + 1])] });
    }
    const tipHi = 351.26, tipLo = 323.76;
    datasets.push({ data: pts([0, 350, 1, 350, 0.5, tipHi]), showLine: false, pointRadius: 0, polyColor: levelColors["999"] });
    datasets.push({ data: pts([0, 325, 1, 325, 0.5, tipLo]), showLine: false, pointRadius: 0, polyColor: levelColors["0"] });
    datasets.push({ data: pts([0, 325, 0, 350, 0.5, tipHi, 1, 350, 1, 325, 0.5, tipLo, 0, 325]), showLine: true, pointRadius: 0, borderColor: "#000", borderWidth: 1.5, tension: 0, clip: false });
    datasets.forEach((d, i) => (d.order = datasets.length - i));
    const label = {
      id: "cbLabel",
      afterDraw(chart: any) {
        const { ctx } = chart;
        ctx.save();
        ctx.translate(3878 + 135 - 3790, 952 - 254);
        ctx.rotate(-Math.PI / 2);
        ctx.textBaseline = "middle";
        ctx.textAlign = "left";
        ctx.fillStyle = "#000";
        const a = "θ", b = "e", c = " (K)";
        ctx.font = 'italic 36px "DejaVu Sans"';
        const wa = ctx.measureText(a).width;
        ctx.font = 'italic 25px "DejaVu Sans"';
        const wb = ctx.measureText(b).width;
        ctx.font = 'bold 36px "DejaVu Sans"';
        const wc = ctx.measureText(c).width;
        let x = -(wa + wb + wc) / 2;
        ctx.font = 'italic 36px "DejaVu Sans"';
        ctx.fillText(a, x, 0); x += wa;
        ctx.font = 'italic 25px "DejaVu Sans"';
        ctx.fillText(b, x, 9); x += wb;
        ctx.font = 'bold 36px "DejaVu Sans"';
        ctx.fillText(c, x, 0);
        ctx.restore();
      },
    };
    const chart = new Chart(ref.current!, {
      type: "scatter",
      data: { datasets },
      plugins: [polyPlugin, label],
      options: {
        animation: false, responsive: false, devicePixelRatio: 1, events: [],
        layout: { padding: { top: PADT, left: PADL, bottom: PADT, right: 0 } },
        plugins: { legend: { display: false }, tooltip: { enabled: false } },
        scales: {
          x: { type: "linear", min: 0, max: 1, display: false },
          y: {
            type: "linear", position: "right", min: colorbarLevels[0], max: colorbarLevels[colorbarLevels.length - 1],
            afterFit: (s: any) => { s.width = AX; },
            afterBuildTicks: (s: any) => { s.ticks = colorbarLevels.map((v) => ({ value: v })); },
            border: { color: "#000", width: 1 },
            grid: { drawOnChartArea: false, tickLength: 9, tickColor: "#000", tickWidth: 1.5 },
            ticks: { color: "#000", padding: 11, autoSkip: false, callback: (v: any) => Number(v).toFixed(1), font: { family: sansBold, weight: "bold", size: 33 } },
          },
        },
      } as any,
    });
    return () => chart.destroy();
  }, []);
  return (
    <canvas ref={ref} width={PADL + W + AX} height={PADT * 2 + H}
      style={{ position: "absolute", left: 3790, top: 253.5, width: PADL + W + AX, height: PADT * 2 + H }} />
  );
}

export default function App() {
  return (
    <div style={{ position: "absolute", left: 0, top: 0, width: 4070, height: 2782, background: "#fff", overflow: "hidden" }}>
      {panels.map((p) => <Panel key={p.tag} p={p} />)}
      <Colorbar />
    </div>
  );
}
